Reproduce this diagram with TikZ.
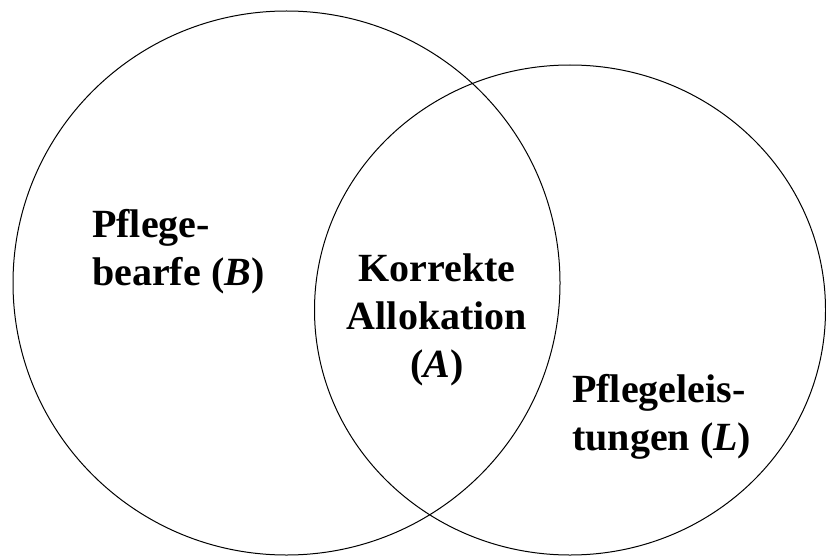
\documentclass[tikz,border=0pt]{standalone}
\usepackage{fontspec}
\setmainfont{Liberation Serif}
\begin{document}
\begin{tikzpicture}[x=1pt,y=1pt,
  setline/.style={line width=1pt,draw=black},
  lbl/.style={inner sep=0pt,font=\fontsize{40}{48}\selectfont\bfseries,
    execute at begin node={\baselineskip=48pt\lineskiplimit=-20pt}}]
\useasboundingbox (0,0) rectangle (826,558);
\draw[setline] (286.5,275) ellipse [x radius=273.5, y radius=272];
\draw[setline] (570,248) ellipse [x radius=255.5, y radius=245];
\node[lbl,align=left,anchor=base west] (B) at (92,273) {Pflege-\\bearfe (\textit{B})};
\node[lbl,align=center,anchor=base] (A) at (437,181) {Korrekte\\Allokation\\(\textit{A})};
\node[lbl,align=left,anchor=base west] (L) at (572,108) {Pflegeleis-\\tungen (\textit{L})};
\end{tikzpicture}
\end{document}
